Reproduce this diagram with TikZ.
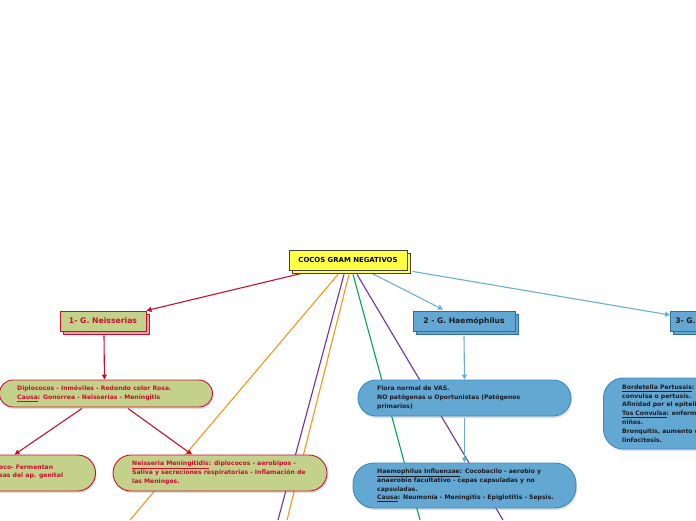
\documentclass[tikz,border=0pt]{standalone}
\usepackage{fontspec}
\setmainfont{DejaVu Sans}
\usetikzlibrary{shadows,calc,arrows.meta}
\definecolor{cred}{HTML}{C8102E}
\definecolor{cgreen}{HTML}{C3D18A}
\definecolor{cpink}{HTML}{E4A0A8}
\definecolor{cblue}{HTML}{63A8D3}
\definecolor{cblueb}{HTML}{3A8AC2}
\definecolor{cyel}{HTML}{FFFF44}
\definecolor{ctxt}{HTML}{1C1C24}
\definecolor{lorange}{HTML}{F7941D}
\definecolor{lpurple}{HTML}{7030A0}
\definecolor{lgreen}{HTML}{00A651}
\definecolor{lblue}{HTML}{6AAED6}
\pgfdeclarelayer{bg}
\pgfsetlayers{bg,main}
\tikzset{
  rootbox/.style={draw=black!75, fill=cyel, line width=0.8pt, minimum width=118pt, minimum height=20pt, inner sep=0pt, font=\fontsize{6.9}{8}\selectfont\bfseries},
  neisbox/.style={draw=cred, fill=cgreen, line width=0.9pt, minimum width=86pt, minimum height=20pt, inner sep=0pt, text=cred, font=\fontsize{7.7}{9}\selectfont\bfseries},
  neisshadow/.style={neisbox, fill=cpink},
  haembox/.style={draw=cblueb!80!black, fill=cblue, line width=0.9pt, minimum width=102pt, minimum height=20pt, inner sep=0pt, text=ctxt, font=\fontsize{7.6}{9}\selectfont\bfseries},
  softshadow/.style={drop shadow={shadow xshift=1pt, shadow yshift=-2pt, opacity=0.25}},
  gbox/.style={draw=cred, fill=cgreen, line width=0.9pt, inner sep=0pt, softshadow},
  bbox/.style={draw=cblueb, fill=cblue, line width=0.9pt, inner sep=0pt, softshadow},
  gtext/.style={text=cred, align=left, inner sep=0pt, anchor=west, font=\fontsize{6.1}{8.8}\selectfont\bfseries},
  btext/.style={text=ctxt, align=left, inner sep=0pt, anchor=west, font=\fontsize{6.1}{8.8}\selectfont\bfseries},
  conn/.style={line width=1.1pt},
  tip/.style={-{Triangle[length=5pt,width=5pt]}},
}
\begin{document}
\begin{tikzpicture}[x=1pt,y=-1pt]
\useasboundingbox (0,0) rectangle (696,520);
% root
\node[rootbox] (rootsh) at (351,263) {};
\node[rootbox] (root) at (348,260) {COCOS GRAM NEGATIVOS};
% level 1
\node[neisshadow] (neissh) at (106,324) {};
\node[neisbox] (neis) at (103,321) {1- G. Neisserias};
\node[haembox] (haemsh) at (467,324) {};
\node[haembox] (haem) at (464,321) {2 - G. Haemóphilus};
\node[haembox, minimum width=120pt, anchor=west] (g3sh) at (673,324) {};
\node[haembox, minimum width=120pt, anchor=west, align=left, text width=110pt] (g3) at (670,321) {3- G.};
% green boxes
\node[gbox, minimum width=213pt, minimum height=27pt, rounded corners=13.5pt, anchor=west] (n1) at (-1,393.5) {};
\node[gtext] (n1t) at (17,393.5) {Diplococos - Inmóviles - Redondo color Rosa.\\\underline{Causa}: Gonorrea - Neisserias - Meningitis};
\node[gbox, minimum width=160pt, minimum height=36pt, rounded corners=18pt, anchor=east] (n2) at (96,473) {};
\node[gtext] (n2t) at (-1,472) {oco- Fermentan\\sas del ap. genital};
\node[gbox, minimum width=214pt, minimum height=36pt, rounded corners=18pt] (n3) at (220,473) {};
\node[gtext] (n3t) at (132,473) {\underline{Neisseria Meningitidis}: diplococos - aerobipos -\\Saliva y secreciones respiratorias - Inflamación de\\las Meninges.};
% blue boxes
\node[bbox, minimum width=213pt, minimum height=36pt, rounded corners=18pt] (h1) at (464.5,398) {};
\node[btext] (h1t) at (377,398) {Flora normal de VAS.\\NO patógenas u Oportunistas (Patógenos\\primarios)};
\node[bbox, minimum width=223pt, minimum height=45pt, rounded corners=21pt] (h2) at (464.5,485.5) {};
\node[btext] (h2t) at (377,485.5) {\underline{Haemophilus Influenzae}: Cocobacilo - aerobio y\\anaerobio facultativo - cepas capsuladas y no\\capsuladas.\\\underline{Causa}: Neumonía - Meningitis - Epiglotitis - Sepsis.};
\node[bbox, minimum width=200pt, minimum height=71pt, rounded corners=20pt, anchor=west] (b1) at (603,413.5) {};
\node[btext] (b1t) at (622,413.5) {\underline{Bordetella Pertussis}: C\\convulsa o pertusis.\\Afinidad por el epitelio\\\underline{Tos Convulsa}: enferm\\niños.\\Bronquitis, aumento d\\linfocitosis.};
% free ends
\coordinate (e1) at (130,520);
\coordinate (e2) at (278,520);
\coordinate (e3) at (287,520);
\coordinate (e4) at (420,520);
\coordinate (e5) at (503,520);
\begin{pgfonlayer}{bg}
\draw[conn, lorange] ($(root.south)+(-10,4)$) -- (e1);
\draw[conn, lpurple] ($(root.south)+(-4,4)$) -- (e2);
\draw[conn, lorange] ($(root.south)+(1,4)$) -- (e3);
\draw[conn, lgreen] ($(root.south)+(5,4)$) -- (e4);
\draw[conn, lpurple] ($(root.south)+(9,4)$) -- (e5);
\draw[conn, cred, tip] ($(root.south west)+(13,3)$) -- (neis.north east);
\draw[conn, lblue, tip] ($(root.south)+(24,3)$) -- ($(haem.north)+(-21,-1)$);
\draw[conn, lblue, tip] ($(root.south east)+(5,1)$) -- ($(g3.west)+(0,-6)$);
\draw[conn, cred, tip] ($(neis.south)+(1,4)$) -- ($(n1.north)+(-1.5,0)$);
\draw[conn, cred, tip] ($(n1.south)+(-24,1)$) -- ($(n2.north)+(-1,0)$);
\draw[conn, cred, tip] ($(n1.south)+(22,1)$) -- ($(n3.north)+(-28,0)$);
\draw[conn, lblue, tip] ($(haem.south)+(0,5)$) -- (h1.north);
\draw[conn, lblue, tip] ($(h1.south)+(0,2)$) -- (h2.north);
\end{pgfonlayer}
\end{tikzpicture}
\end{document}
